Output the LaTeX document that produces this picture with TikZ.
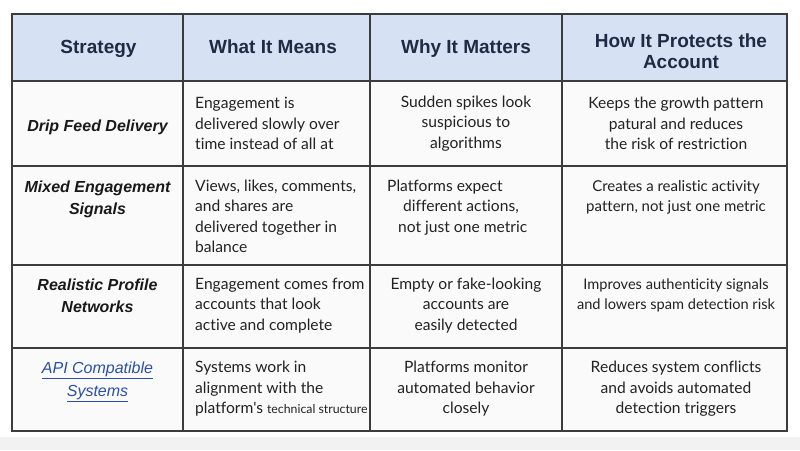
\documentclass[tikz,border=0pt]{standalone}
\usepackage{fontspec}
\setmainfont{Liberation Sans}
\newfontfamily\bodyfont[Ligatures={NoCommon}]{Lato}
\definecolor{hdrfill}{HTML}{D6E2F3}
\definecolor{hdrtext}{HTML}{1F2A44}
\definecolor{bodytext}{HTML}{222222}
\definecolor{gridc}{HTML}{3C3C3C}
\definecolor{cellfill}{HTML}{FAFAFB}
\definecolor{linkc}{HTML}{2A4FA8}
\begin{document}
\begin{tikzpicture}[x=1pt,y=-1pt,
  hdr/.style={font=\fontsize{19}{21}\selectfont\bfseries, text=hdrtext, align=center, inner sep=0pt, anchor=base},
  strat/.style={font=\fontsize{16}{22}\selectfont\bfseries\itshape, text=black!90, align=center, inner sep=0pt},
  bodyl/.style={font=\bodyfont\fontsize{15.6}{20.5}\selectfont, text=bodytext, align=left, anchor=west, inner sep=0pt},
  bodyc/.style={font=\bodyfont\fontsize{15.6}{20.5}\selectfont, text=bodytext, align=center, inner sep=0pt},
  grid/.style={draw=gridc, line width=1.2pt}]
\useasboundingbox (0,0) rectangle (800,450);
\fill[white] (0,0) rectangle (800,450);
\fill[black!5] (0,437) rectangle (800,450);
% fills
\fill[hdrfill] (12,14) rectangle (787,81);
\fill[cellfill] (12,81) rectangle (787,431);
% grid
\draw[grid] (12,14) rectangle (787,431);
\draw[grid] (12,81) -- (787,81);
\draw[grid] (12,166) -- (787,166);
\draw[grid] (12,265) -- (787,265);
\draw[grid] (12,348) -- (787,348);
\draw[grid] (183,14) -- (183,431);
\draw[grid] (370,14) -- (370,431);
\draw[grid] (562,14) -- (562,431);
% header
\node[hdr] (h1) at (98.5,53) {Strategy};
\node[hdr] (h2) at (273,53) {What It Means};
\node[hdr] (h3) at (466,53) {Why It Matters};
\node[hdr] (h4) at (681,68) {How It Protects the\\Account};
% row 1
\node[strat] (s1) at (97.5,127) {Drip Feed Delivery};
\node[bodyl] (m1) at (195,123.5) {Engagement is\\delivered slowly over\\time instead of all at};
\node[bodyc] (w1) at (466,123.5) {Sudden spikes look\\suspicious to\\algorithms};
\node[bodyc] (p1) at (676,123.5) {Keeps the growth pattern\\patural and reduces\\the risk of restriction};
% row 2
\node[strat] (s2) at (97.5,199) {Mixed Engagement\\Signals};
\node[bodyl] (m2) at (195,216.5) {Views, likes, comments,\\and shares are\\delivered together in\\balance};
\node[bodyl] (w2) at (387,207.5) {Platforms expect\\\hspace*{16pt}different actions,\\\hspace*{11pt}not just one metric};
\node[bodyc, font=\bodyfont\fontsize{15}{20.5}\selectfont] (p2) at (676,197.5) {Creates a realistic activity\\pattern, not just one metric};
% row 3
\node[strat] (s3) at (97.5,296) {Realistic Profile\\Networks};
\node[bodyl] (m3) at (195,305.5) {Engagement comes from\\accounts that look\\active and complete};
\node[bodyc] (w3) at (466,305.5) {Empty or fake-looking\\accounts are\\easily detected};
\node[bodyc, font=\bodyfont\fontsize{14.6}{20.5}\selectfont] (p3) at (676,295.5) {Improves authenticity signals\\and lowers spam detection risk};
% row 4
\node[strat, font=\fontsize{16}{23}\selectfont\itshape, text=linkc] (s4) at (97.5,381.5) {\underline{API Compatible}\\\underline{Systems}};
\node[bodyl] (m4) at (195,389) {Systems work in\\alignment with the\\platform's {\fontsize{12.3}{20.5}\selectfont technical structure}};
\node[bodyc] (w4) at (466,389) {Platforms monitor\\automated behavior\\closely};
\node[bodyc] (p4) at (676,389) {Reduces system conflicts\\and avoids automated\\detection triggers};
\end{tikzpicture}
\end{document}
